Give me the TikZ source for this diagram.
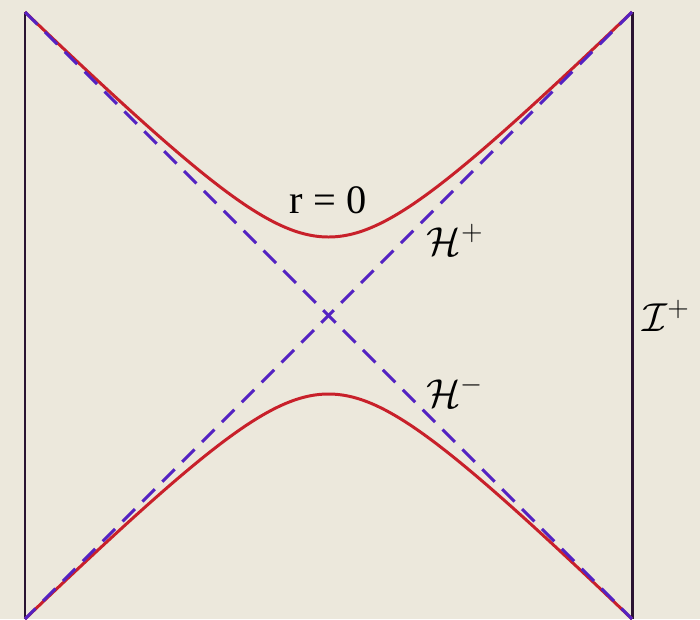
\documentclass[tikz,border=0pt]{standalone}
\usepackage{fix-cm}
\usepackage{amsmath}
\usepackage{fontspec}
\setmainfont{Liberation Serif}
\definecolor{paper}{HTML}{ECE8DC}
\definecolor{singred}{HTML}{C8202A}
\definecolor{horblue}{HTML}{5322C2}
\definecolor{bndpurple}{HTML}{2A1432}
\begin{document}
\begin{tikzpicture}[x=2cm, y=-2cm,
    boundary/.style={draw=bndpurple, line width=1.7pt},
    singularity/.style={draw=singred, line width=1.7pt},
    horizon/.style={draw=horblue, line width=1.8pt, dash pattern=on 10pt off 6pt},
    lbl/.style={font=\fontsize{23}{27}\selectfont, inner sep=0pt}]
    \useasboundingbox (0,0) rectangle (7,6.19);
    \fill[paper] (0,0) rectangle (7,6.19);
    % walls
    \draw[boundary] (0.25,0.12) -- (0.25,6.19);
    \draw[boundary] (6.32,0.12) -- (6.32,6.19);
    % r = 0, future and past
    \draw[singularity] plot[domain=-3.035:3.035, samples=121, smooth] ({3.285+\x},{3.155-(sqrt(\x*\x+0.850)-0.137)});
    \draw[singularity] plot[domain=-3.035:3.035, samples=121, smooth] ({3.285+\x},{3.155+(sqrt(\x*\x+0.850)-0.137)});
    % horizons
    \draw[horizon] (0.25,0.12) -- (6.32,6.19);
    \draw[horizon] (6.32,0.12) -- (0.25,6.19);
    % labels
    \node[lbl] (rzero) at (3.28,2.00) {r = 0};
    \node[lbl] (hplus) at (4.55,2.40) {$\mathcal{H}^+$};
    \node[lbl] (hminus) at (4.55,3.92) {$\mathcal{H}^-$};
    \node[lbl] (scri) at (6.66,3.16) {$\mathcal{I}^+$};
\end{tikzpicture}
\end{document}
